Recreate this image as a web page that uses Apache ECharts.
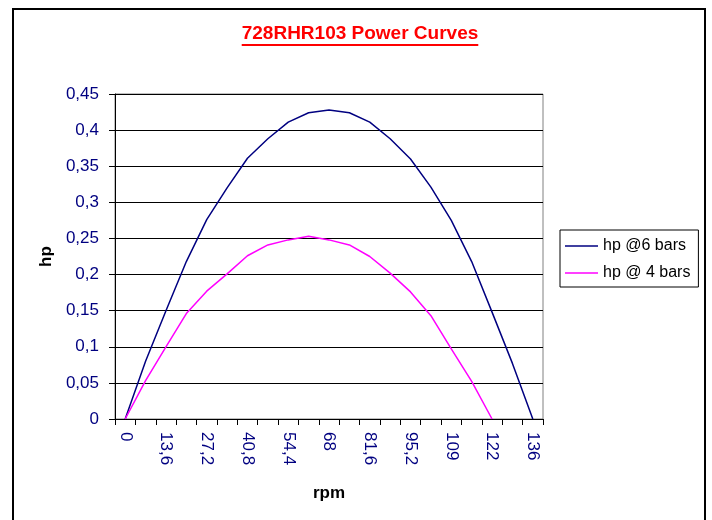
<!DOCTYPE html>
<html>
<head>
<meta charset="utf-8">
<script src="https://cdn.jsdelivr.net/npm/echarts@6/dist/echarts.min.js"></script>
<style>
html,body{margin:0;padding:0;background:#fff;}
#chart{width:712px;height:520px;}
</style>
</head>
<body>
<div id="chart"></div>
<script>
const titleText = '728RHR103 Power Curves';
const rpmCategories = ['0','6,8','13,6','20,4','27,2','34','40,8','47,6','54,4','61,2','68','74,8','81,6','88,4','95,2','102','109','116','122','129','136'];
const seriesNames = ['hp @6 bars', 'hp @ 4 bars'];
const hp6bars = [0, 0.08, 0.15, 0.218, 0.276, 0.32, 0.361, 0.388, 0.411, 0.424, 0.428, 0.424, 0.411, 0.388, 0.36, 0.321, 0.275, 0.218, 0.148, 0.077, 0];
const hp4bars = [0, 0.053, 0.1, 0.146, 0.177, 0.201, 0.226, 0.241, 0.248, 0.253, 0.248, 0.241, 0.225, 0.202, 0.176, 0.143, 0.097, 0.052, 0, null, null];

const FONT = 'Arial, "Liberation Sans", sans-serif';
const NAVY = '#000080';

const chart = echarts.init(document.getElementById('chart'), null, {renderer: 'canvas'});

// measure title width for the underline
const cv = document.createElement('canvas').getContext('2d');
cv.font = 'bold 19px ' + FONT;
const tw = cv.measureText(titleText).width;
const tcx = 360;

const option = {
  backgroundColor: '#ffffff',
  animation: false,
  title: {
    text: titleText,
    left: tcx - tw / 2,
    top: 24,
    padding: 0,
    textStyle: {color: '#ff0000', fontWeight: 'bold', fontSize: 19, fontFamily: FONT}
  },
  graphic: [
    {type: 'rect', shape: {x: 13, y: 9, width: 692, height: 530}, style: {fill: null, stroke: '#000', lineWidth: 2}, silent: true},
    {type: 'line', shape: {x1: tcx - tw / 2, y1: 45, x2: tcx + tw / 2, y2: 45}, style: {stroke: '#ff0000', lineWidth: 2}, silent: true}
  ],
  legend: {
    orient: 'vertical',
    left: 560,
    top: 230,
    padding: [8, 8, 6, 5],
    icon: 'rect',
    itemWidth: 33,
    itemHeight: 1.5,
    itemGap: 11,
    borderColor: '#000',
    borderWidth: 1,
    data: seriesNames,
    textStyle: {color: '#000', fontSize: 16, fontFamily: FONT}
  },
  grid: {
    left: 115, right: 169, top: 94, bottom: 101,
    show: true, borderColor: '#808080', borderWidth: 1, backgroundColor: '#fff'
  },
  xAxis: {
    type: 'category',
    data: rpmCategories,
    boundaryGap: true,
    name: 'rpm',
    nameLocation: 'middle',
    nameGap: 66,
    nameTextStyle: {color: '#000', fontWeight: 'bold', fontSize: 17, fontFamily: FONT},
    axisLine: {lineStyle: {color: '#000', width: 1}},
    axisTick: {show: true, interval: 0, length: 6, lineStyle: {color: '#000'}},
    axisLabel: {interval: 1, rotate: -90, margin: 13, color: NAVY, fontSize: 17, fontFamily: FONT},
    splitLine: {show: false}
  },
  yAxis: {
    type: 'value',
    min: 0, max: 0.45, interval: 0.05,
    name: 'hp',
    nameLocation: 'middle',
    nameGap: 60,
    nameTextStyle: {color: '#000', fontWeight: 'bold', fontSize: 17, fontFamily: FONT},
    axisLine: {show: true, lineStyle: {color: '#000', width: 1}},
    axisTick: {show: true, length: 6, lineStyle: {color: '#000'}},
    axisLabel: {
      margin: 16, color: NAVY, fontSize: 17, fontFamily: FONT,
      formatter: v => String(Math.round(v * 100) / 100).replace('.', ',')
    },
    splitLine: {show: true, lineStyle: {color: '#000', width: 1}}
  },
  series: [
    {name: seriesNames[0], type: 'line', data: hp6bars, symbol: 'none', lineStyle: {color: NAVY, width: 1.5}, itemStyle: {color: NAVY}},
    {name: seriesNames[1], type: 'line', data: hp4bars, symbol: 'none', lineStyle: {color: '#ff00ff', width: 1.5}, itemStyle: {color: '#ff00ff'}}
  ]
};
chart.setOption(option);
</script>
</body>
</html>
